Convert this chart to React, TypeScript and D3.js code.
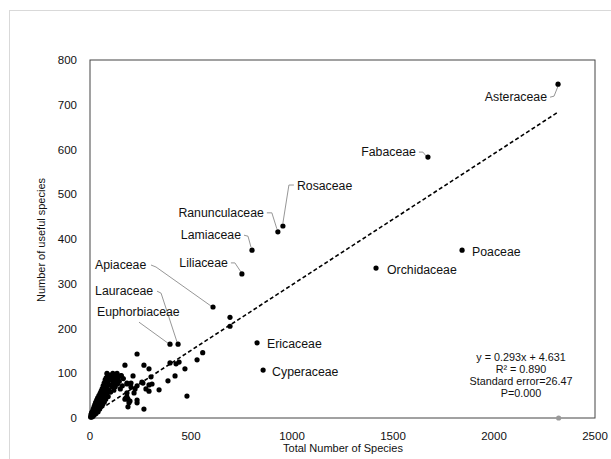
import React from "react";
import * as d3 from "d3";

// ---------- DATA ----------
const labeledNames = ["Asteraceae","Fabaceae","Poaceae","Orchidaceae","Rosaceae","Ranunculaceae","Lamiaceae","Liliaceae","Apiaceae","Lauraceae","Euphorbiaceae","Ericaceae","Cyperaceae"];
const labeledTotal = [2317,1673,1842,1416,955,930,802,752,609,436,396,827,857];
const labeledUseful = [746,583,375,335,429,416,375,322,248,165,165,168,107];

const otherPoints: [number, number][] = [
  [693,225],[693,205],[558,146],[530,130],[233,143],[267,118],[292,110],[396,123],[426,121],[441,125],
  [470,110],[213,94],[302,92],[421,94],[386,83],[257,80],[262,78],[292,74],[223,65],[292,60],
  [342,63],[480,49],[198,38],[233,34],[267,20],[173,118],[188,25],[173,42],[188,42],
  [183,78],[203,69],[218,56],[183,47],[233,40],[193,34],[183,76],[203,78],[233,72],[307,76],[277,65],[183,56],[178,45],
  [3,2],[5,8],[6,4],[8,12],[9,2],[10,6],[12,15],[13,9],[15,4],[16,20],[18,12],[20,25],[21,7],[22,17],[24,30],[25,14],
  [27,22],[28,35],[30,10],[31,28],[33,40],[34,18],[36,32],[38,45],[39,24],[40,14],[42,38],[44,50],[45,28],[47,42],
  [48,20],[50,55],[51,33],[53,46],[55,60],[56,26],[58,38],[60,65],[61,50],[63,30],[65,72],[66,45],[68,58],[70,78],
  [71,36],[73,52],[75,85],[76,64],[78,42],[80,90],[82,70],[84,55],[86,98],[88,80],[90,48],[92,62],[95,92],[97,74],
  [100,85],[102,58],[105,96],[108,70],[110,88],[113,100],[116,78],[118,62],[122,92],[125,70],[128,84],[132,98],
  [136,76],[140,90],[145,82],[150,65],[155,95],[160,72],[165,88],[134,100],[153,94],[119,85],[84,100]
];

const regressionSlope = 0.293;
const regressionIntercept = 4.631;
const regressionXRange = [0, 2320];
const outlierGray: [number, number] = [2320, 0];

const xTicks = [0, 500, 1000, 1500, 2000, 2500];
const yTicks = [0, 100, 200, 300, 400, 500, 600, 700, 800];
const statsLines = ["y = 0.293x + 4.631", "R² = 0.890", "Standard error=26.47", "P=0.000"];

// ---------- LAYOUT (label placement, pixel offsets from the point) ----------
const labelLayout: Record<string, { dx: number; dy: number; anchor: string; leader?: [number, number][] }> = {
  Asteraceae: { dx: -11, dy: 13, anchor: "end", leader: [[-8, 13], [-4, 12], [0, 2]] },
  Fabaceae: { dx: -12, dy: -5, anchor: "end", leader: [[-9, -5], [-5, -5], [-1, 0]] },
  Poaceae: { dx: 10, dy: 2, anchor: "start" },
  Orchidaceae: { dx: 11, dy: 2, anchor: "start" },
  Rosaceae: { dx: 14, dy: -40, anchor: "start", leader: [[11, -41], [6, -41], [0, -3]] },
  Ranunculaceae: { dx: -14, dy: -19, anchor: "end", leader: [[-11, -19], [-6, -19], [-1, -3]] },
  Lamiaceae: { dx: -11, dy: -15, anchor: "end", leader: [[-8, -15], [-4, -14], [-1, -3]] },
  Liliaceae: { dx: -14, dy: -11, anchor: "end", leader: [[-11, -11], [-7, -11], [-1, -2]] },
  Apiaceae: { dx: -118, dy: -42, anchor: "start", leader: [[-62, -42], [-57, -40], [-2, -1]] },
  Lauraceae: { dx: -83, dy: -53, anchor: "start", leader: [[-21, -53], [-17, -51], [-1, -2]] },
  Euphorbiaceae: { dx: -73, dy: -32, anchor: "start", leader: [[-31, -22], [-2, -1]] },
  Ericaceae: { dx: 10, dy: 1, anchor: "start" },
  Cyperaceae: { dx: 9, dy: 2, anchor: "start" },
};

const W = 611, H = 459;
const FONT = "'Liberation Sans', Arial, Helvetica, sans-serif";

export default function App() {
  const x = d3.scaleLinear().domain([0, 2500]).range([90, 595]);
  const y = d3.scaleLinear().domain([0, 800]).range([418, 60]);
  const line = d3.line<[number, number]>().x(d => x(d[0])).y(d => y(d[1]));
  const reg: [number, number][] = regressionXRange.map(v => [v, regressionSlope * v + regressionIntercept]);

  return (
    <svg width={W} height={H} style={{ position: "absolute", left: 0, top: 0, background: "#fff" }} fontFamily={FONT}>
      <rect x={9.5} y={10.5} width={W + 10} height={H + 10} fill="#fff" stroke="#d9d9d9" strokeWidth={1} />
      {/* plot frame */}
      <rect x={x(0)} y={y(800)} width={x(2500) - x(0)} height={y(0) - y(800)} fill="none" stroke="#444" strokeWidth={1} />
      {/* ticks */}
      {yTicks.map(t => (
        <text key={"y" + t} x={x(0) - 13} y={y(t)} dy="0.35em" textAnchor="end" fontSize={11.5} fill="#111">{t}</text>
      ))}
      {xTicks.map(t => (
        <text key={"x" + t} x={x(t)} y={y(0) + 18} dy="0.35em" textAnchor="middle" fontSize={11.5} fill="#111">{t}</text>
      ))}
      <text x={343} y={452} textAnchor="middle" fontSize={11} fill="#111">Total Number of Species</text>
      <text transform={`translate(41,240) rotate(-90)`} textAnchor="middle" dy="0.35em" fontSize={11} fill="#111">Number of useful species</text>
      {/* regression line */}
      <path d={line(reg) || ""} fill="none" stroke="#000" strokeWidth={1.6} strokeDasharray="4,2.5" />
      {/* gray point */}
      <circle cx={x(outlierGray[0])} cy={y(outlierGray[1])} r={2.6} fill="#999" />
      {/* other points */}
      {otherPoints.map((p, i) => (
        <circle key={"o" + i} cx={x(p[0])} cy={y(p[1])} r={2.6} fill="#000" />
      ))}
      {/* labeled points */}
      {labeledNames.map((name, i) => {
        const px = x(labeledTotal[i]);
        const py = y(labeledUseful[i]);
        const L = labelLayout[name];
        return (
          <g key={name}>
            {L.leader && (
              <polyline
                points={L.leader.map(o => `${px + o[0]},${py + o[1]}`).join(" ")}
                fill="none" stroke="#8a8a8a" strokeWidth={0.9}
              />
            )}
            <circle cx={px} cy={py} r={2.6} fill="#000" />
            <text x={px + L.dx} y={py + L.dy} dy="0.35em" textAnchor={L.anchor as any} fontSize={12.3} fill="#111">{name}</text>
          </g>
        );
      })}
      {/* stats */}
      {statsLines.map((s, i) => (
        <text key={s} x={521} y={357 + i * 12} dy="0.35em" textAnchor="middle" fontSize={10.8} fill="#111">{s}</text>
      ))}
    </svg>
  );
}
